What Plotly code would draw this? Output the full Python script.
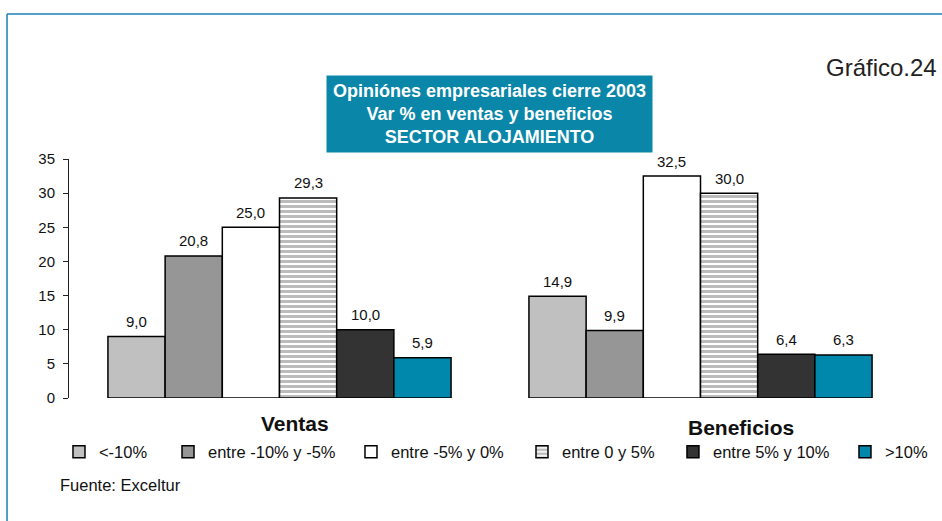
import plotly.graph_objects as go

categories = ["Ventas", "Beneficios"]
series_names = ["<-10%", "entre -10% y -5%", "entre -5% y 0%", "entre 0 y 5%", "entre 5% y 10%", ">10%"]
v_menos10 = [9.0, 14.9]
v_m10_m5 = [20.8, 9.9]
v_m5_0 = [25.0, 32.5]
v_0_5 = [29.3, 30.0]
v_5_10 = [10.0, 6.4]
v_mas10 = [5.9, 6.3]
series_values = [v_menos10, v_m10_m5, v_m5_0, v_0_5, v_5_10, v_mas10]
y_ticks = [0, 5, 10, 15, 20, 25, 30, 35]

colors = ["#c0c0c0", "#969696", "#ffffff", "#ffffff", "#333333", "#0088ac"]
legend_x = [-0.0119, 0.1176, 0.3349, 0.5380, 0.7173, 0.9216]
FONT = "Liberation Sans, Arial, sans-serif"

W, H = 942, 521
ML, MR, MT, MB = 69, 31, 159, 123
BARGAP = 0.185
plot_w = W - ML - MR
bar_px = plot_w / len(categories) * (1 - BARGAP) / len(series_names)

fig = go.Figure()
for i, (name, vals) in enumerate(zip(series_names, series_values)):
    marker = dict(color=colors[i], line=dict(color="black", width=1.5))
    if i == 3:
        marker["pattern"] = dict(shape="-", fgcolor="#777777", bgcolor="#ffffff",
                                 size=5, solidity=0.6)
    fig.add_trace(go.Bar(
        x=categories, y=vals, name=name, marker=marker,
        legend="legend" if i == 0 else f"legend{i+1}",
    ))
    # value labels above each bar
    for cat, v in zip(categories, vals):
        fig.add_annotation(x=cat, y=v, xref="x", yref="y",
                           text=f"{v:.1f}".replace(".", ","),
                           showarrow=False, xanchor="center", yanchor="middle",
                           xshift=(i - (len(series_names) - 1) / 2) * bar_px, yshift=15,
                           font=dict(size=15, color="#111111", family=FONT))

legends = {}
for i, lx in enumerate(legend_x):
    key = "legend" if i == 0 else f"legend{i+1}"
    legends[key] = dict(x=lx, xanchor="left", y=-0.226, yanchor="middle",
                        orientation="h", bgcolor="rgba(0,0,0,0)", borderwidth=0,
                        font=dict(size=16.5, color="#111111", family=FONT))
fig.update_layout(**legends)

fig.update_layout(
    width=W, height=H,
    margin=dict(l=ML, r=MR, t=MT, b=MB, autoexpand=False),
    paper_bgcolor="white", plot_bgcolor="white",
    barmode="group", bargap=BARGAP, bargroupgap=0,
    separators=",.",
    font=dict(family=FONT, color="#111111"),
    xaxis=dict(range=[-0.5, 1.5], showticklabels=False, showline=False,
               showgrid=False, zeroline=False, ticks=""),
    yaxis=dict(range=[0, 35], tickvals=y_ticks, showline=True, linecolor="#222222",
               linewidth=1, ticks="outside", ticklen=5, tickcolor="#222222",
               ticklabelstandoff=5,
               showgrid=False, zeroline=False,
               tickfont=dict(size=15, color="#111111", family=FONT)),
    showlegend=True,
)

# frame lines
fig.add_shape(type="line", xref="paper", yref="paper", x0=-0.0736, x1=1.04,
              y0=1.6067, y1=1.6067, line=dict(color="#1a80b6", width=1.5))
fig.add_shape(type="line", xref="paper", yref="paper", x0=-0.0736, x1=-0.0736,
              y0=1.6067, y1=-0.53, line=dict(color="#1a80b6", width=1.5))

# title box
fig.add_annotation(xref="paper", yref="paper", x=0.4994, y=1.188,
                   xanchor="center", yanchor="middle", showarrow=False,
                   text="<b>Opiniónes empresariales cierre 2003<br>Var % en ventas y beneficios<br>SECTOR ALOJAMIENTO</b>",
                   font=dict(size=18, color="white", family=FONT),
                   bgcolor="#0a87a8", width=325, height=76, borderpad=0, align="center")

fig.add_annotation(xref="paper", yref="paper", x=(939 - 69) / 842, y=1.3808,
                   xanchor="right", yanchor="middle", showarrow=False,
                   text="Gráfico.24", font=dict(size=24, color="#222222", family=FONT))

# category labels
fig.add_annotation(xref="paper", yref="paper", x=0.2684, y=(398 - 423.5) / 239,
                   xanchor="center", yanchor="middle", showarrow=False,
                   text="<b>Ventas</b>", font=dict(size=21, color="#111111", family=FONT))
fig.add_annotation(xref="paper", yref="paper", x=(741 - 69) / 842, y=(398 - 427) / 239,
                   xanchor="center", yanchor="middle", showarrow=False,
                   text="<b>Beneficios</b>", font=dict(size=21, color="#111111", family=FONT))

fig.add_annotation(xref="paper", yref="paper", x=(58 - 69) / 842, y=(398 - 485) / 239,
                   xanchor="left", yanchor="middle", showarrow=False,
                   text="Fuente: Exceltur", font=dict(size=16.5, color="#111111", family=FONT))

fig.write_html("out.html", config={"displayModeBar": False},
               post_script="document.body.style.margin='0';")
